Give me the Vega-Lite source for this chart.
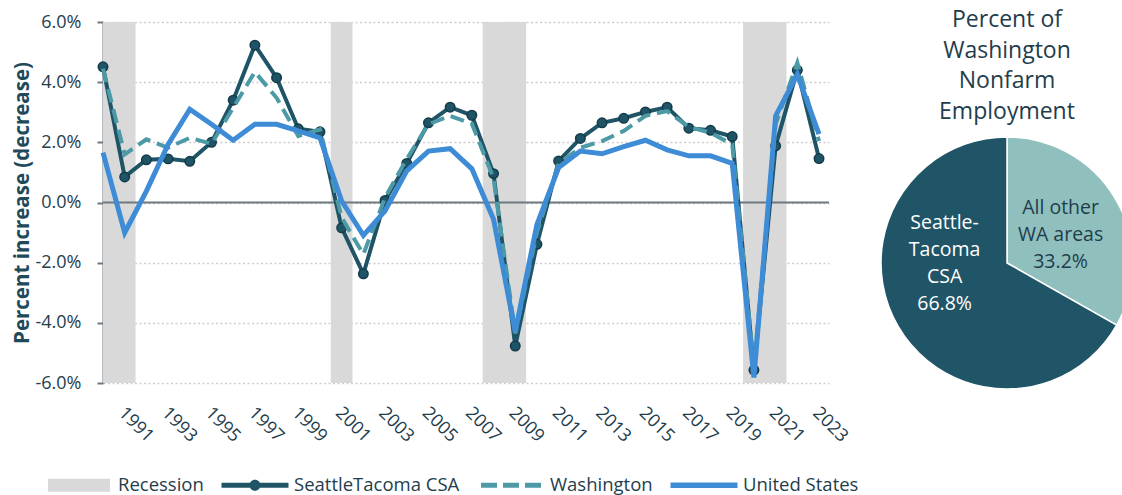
{
  "$schema": "https://vega.github.io/schema/vega-lite/v6.json",
  "background": "white",
  "padding": {"left": 12, "top": 8, "right": 0, "bottom": 0},
  "spacing": 19,
  "config": {
    "font": "Open Sans",
    "view": {"stroke": null},
    "axis": {"labelFont": "Open Sans", "titleFont": "Open Sans", "labelColor": "#1f3d4c", "titleColor": "#1f4a5a"}
  },
  "datasets": {
    "growth": [
      {"year": 1990, "series": "seattle", "value": 4.51}, {"year": 1990, "series": "washington", "value": 4.45}, {"year": 1990, "series": "us", "value": 1.66},
      {"year": 1991, "series": "seattle", "value": 0.85}, {"year": 1991, "series": "washington", "value": 1.60}, {"year": 1991, "series": "us", "value": -1.00},
      {"year": 1992, "series": "seattle", "value": 1.42}, {"year": 1992, "series": "washington", "value": 2.10}, {"year": 1992, "series": "us", "value": 0.38},
      {"year": 1993, "series": "seattle", "value": 1.45}, {"year": 1993, "series": "washington", "value": 1.82}, {"year": 1993, "series": "us", "value": 1.93},
      {"year": 1994, "series": "seattle", "value": 1.37}, {"year": 1994, "series": "washington", "value": 2.15}, {"year": 1994, "series": "us", "value": 3.10},
      {"year": 1995, "series": "seattle", "value": 2.00}, {"year": 1995, "series": "washington", "value": 1.95}, {"year": 1995, "series": "us", "value": 2.60},
      {"year": 1996, "series": "seattle", "value": 3.40}, {"year": 1996, "series": "washington", "value": 3.15}, {"year": 1996, "series": "us", "value": 2.07},
      {"year": 1997, "series": "seattle", "value": 5.23}, {"year": 1997, "series": "washington", "value": 4.34}, {"year": 1997, "series": "us", "value": 2.60},
      {"year": 1998, "series": "seattle", "value": 4.15}, {"year": 1998, "series": "washington", "value": 3.48}, {"year": 1998, "series": "us", "value": 2.60},
      {"year": 1999, "series": "seattle", "value": 2.45}, {"year": 1999, "series": "washington", "value": 2.21}, {"year": 1999, "series": "us", "value": 2.38},
      {"year": 2000, "series": "seattle", "value": 2.35}, {"year": 2000, "series": "washington", "value": 2.43}, {"year": 2000, "series": "us", "value": 2.15},
      {"year": 2001, "series": "seattle", "value": -0.84}, {"year": 2001, "series": "washington", "value": -0.50}, {"year": 2001, "series": "us", "value": 0.05},
      {"year": 2002, "series": "seattle", "value": -2.37}, {"year": 2002, "series": "washington", "value": -1.72}, {"year": 2002, "series": "us", "value": -1.09},
      {"year": 2003, "series": "seattle", "value": 0.07}, {"year": 2003, "series": "washington", "value": 0.16}, {"year": 2003, "series": "us", "value": -0.28},
      {"year": 2004, "series": "seattle", "value": 1.30}, {"year": 2004, "series": "washington", "value": 1.45}, {"year": 2004, "series": "us", "value": 1.05},
      {"year": 2005, "series": "seattle", "value": 2.65}, {"year": 2005, "series": "washington", "value": 2.60}, {"year": 2005, "series": "us", "value": 1.71},
      {"year": 2006, "series": "seattle", "value": 3.17}, {"year": 2006, "series": "washington", "value": 2.88}, {"year": 2006, "series": "us", "value": 1.79},
      {"year": 2007, "series": "seattle", "value": 2.90}, {"year": 2007, "series": "washington", "value": 2.62}, {"year": 2007, "series": "us", "value": 1.12},
      {"year": 2008, "series": "seattle", "value": 0.96}, {"year": 2008, "series": "washington", "value": 0.80}, {"year": 2008, "series": "us", "value": -0.56},
      {"year": 2009, "series": "seattle", "value": -4.77}, {"year": 2009, "series": "washington", "value": -4.35}, {"year": 2009, "series": "us", "value": -4.30},
      {"year": 2010, "series": "seattle", "value": -1.39}, {"year": 2010, "series": "washington", "value": -1.00}, {"year": 2010, "series": "us", "value": -0.73},
      {"year": 2011, "series": "seattle", "value": 1.38}, {"year": 2011, "series": "washington", "value": 1.30}, {"year": 2011, "series": "us", "value": 1.16},
      {"year": 2012, "series": "seattle", "value": 2.13}, {"year": 2012, "series": "washington", "value": 1.82}, {"year": 2012, "series": "us", "value": 1.71},
      {"year": 2013, "series": "seattle", "value": 2.65}, {"year": 2013, "series": "washington", "value": 2.04}, {"year": 2013, "series": "us", "value": 1.62},
      {"year": 2014, "series": "seattle", "value": 2.80}, {"year": 2014, "series": "washington", "value": 2.38}, {"year": 2014, "series": "us", "value": 1.86},
      {"year": 2015, "series": "seattle", "value": 3.01}, {"year": 2015, "series": "washington", "value": 2.88}, {"year": 2015, "series": "us", "value": 2.07},
      {"year": 2016, "series": "seattle", "value": 3.17}, {"year": 2016, "series": "washington", "value": 3.04}, {"year": 2016, "series": "us", "value": 1.75},
      {"year": 2017, "series": "seattle", "value": 2.47}, {"year": 2017, "series": "washington", "value": 2.51}, {"year": 2017, "series": "us", "value": 1.55},
      {"year": 2018, "series": "seattle", "value": 2.40}, {"year": 2018, "series": "washington", "value": 2.32}, {"year": 2018, "series": "us", "value": 1.55},
      {"year": 2019, "series": "seattle", "value": 2.19}, {"year": 2019, "series": "washington", "value": 1.93}, {"year": 2019, "series": "us", "value": 1.30},
      {"year": 2020, "series": "seattle", "value": -5.57}, {"year": 2020, "series": "washington", "value": -5.45}, {"year": 2020, "series": "us", "value": -5.82},
      {"year": 2021, "series": "seattle", "value": 1.88}, {"year": 2021, "series": "washington", "value": 2.60}, {"year": 2021, "series": "us", "value": 2.88},
      {"year": 2022, "series": "seattle", "value": 4.40}, {"year": 2022, "series": "washington", "value": 4.65}, {"year": 2022, "series": "us", "value": 4.26},
      {"year": 2023, "series": "seattle", "value": 1.46}, {"year": 2023, "series": "washington", "value": 2.04}, {"year": 2023, "series": "us", "value": 2.27}
    ],
    "recessions": [
      {"year": 1989.5, "year_end": 1991.5},
      {"year": 2000.5, "year_end": 2001.5},
      {"year": 2007.5, "year_end": 2009.5},
      {"year": 2019.5, "year_end": 2021.5}
    ],
    "share": [
      {"area": "All other WA areas", "share": 33.2, "label": "All other\nWA areas\n33.2%"},
      {"area": "Seattle-Tacoma CSA", "share": 66.8, "label": "Seattle-\nTacoma\nCSA\n66.8%"}
    ]
  },
  "hconcat": [
    {
      "width": 726,
      "height": 361,
      "data": {"name": "growth"},
      "layer": [
        {
          "data": {"name": "recessions"},
          "mark": {"type": "rect", "color": "#d9d9d9", "clip": true},
          "encoding": {
            "x": {
              "field": "year", "type": "quantitative",
              "scale": {"domain": [1990, 2023.46], "nice": false, "zero": false},
              "axis": {
                "title": null, "values": [1991, 1993, 1995, 1997, 1999, 2001, 2003, 2005, 2007, 2009, 2011, 2013, 2015, 2017, 2019, 2021, 2023],
                "format": "d", "labelAngle": 45, "labelAlign": "left", "labelBaseline": "middle",
                "labelPadding": 27, "labelOffset": -4, "ticks": false, "domain": false, "grid": false,
                "labelFontSize": 18, "labelFlush": false, "labelOverlap": false
              }
            },
            "x2": {"field": "year_end"}
          }
        },
        {
          "data": {"values": [{"value": 0}]},
          "mark": {"type": "rule", "color": "#6e7881", "strokeWidth": 2},
          "encoding": {
            "y": {
              "field": "value", "type": "quantitative",
              "scale": {"domain": [-6, 6], "nice": false, "zero": false},
              "axis": {
                "title": "Percent increase (decrease)", "values": [-6, -4, -2, 0, 2, 4, 6],
                "labelExpr": "(datum.value < 0 ? '-' : '') + format(abs(datum.value), '.1f') + '%'",
                "labelFontSize": 18, "labelPadding": 16,
                "titleFontSize": 20.5, "titleFontWeight": "bold", "titlePadding": 3,
                "grid": true, "gridDash": [2, 2.5], "gridColor": "#cdcdcd", "gridWidth": 1.5,
                "domainColor": "#6e7881", "domainWidth": 2,
                "tickColor": "#6e7881", "tickWidth": 2, "tickSize": 6
              }
            }
          }
        },
        {
          "transform": [{"filter": "datum.series == 'seattle'"}],
          "mark": {"type": "line", "color": "#1f5466", "strokeWidth": 4},
          "encoding": {
            "x": {"field": "year", "type": "quantitative"},
            "y": {"field": "value", "type": "quantitative"}
          }
        },
        {
          "transform": [{"filter": "datum.series == 'seattle'"}],
          "mark": {"type": "point", "filled": true, "size": 90, "color": "#1f5466", "stroke": "#143a48", "strokeWidth": 1.5, "opacity": 1},
          "encoding": {
            "x": {"field": "year", "type": "quantitative"},
            "y": {"field": "value", "type": "quantitative"}
          }
        },
        {
          "transform": [{"filter": "datum.series == 'washington'"}],
          "mark": {"type": "line", "color": "#4b9aa6", "strokeWidth": 4, "strokeDash": [14, 7]},
          "encoding": {
            "x": {"field": "year", "type": "quantitative"},
            "y": {"field": "value", "type": "quantitative"}
          }
        },
        {
          "transform": [{"filter": "datum.series == 'us'"}],
          "mark": {"type": "line", "color": "#3e8bd6", "strokeWidth": 5},
          "encoding": {
            "x": {"field": "year", "type": "quantitative"},
            "y": {"field": "value", "type": "quantitative"}
          }
        },
        {
          "data": {"values": [{"series": "Recession"}, {"series": "SeattleTacoma CSA"}, {"series": "Washington"}, {"series": "United States"}]},
          "mark": {"type": "point", "filled": true, "size": 0, "opacity": 1},
          "encoding": {
            "color": {
              "field": "series", "type": "nominal",
              "scale": {"domain": ["Recession", "SeattleTacoma CSA", "Washington", "United States"], "range": ["#d9d9d9", "#1f5466", "#4b9aa6", "#3e8bd6"]},
              "legend": {
                "orient": "none", "legendX": -59, "legendY": 428, "direction": "horizontal", "title": null,
                "symbolSize": 4900, "symbolStrokeWidth": 0, "symbolOpacity": 1,
                "labelFontSize": 18.5, "labelColor": "#1f3d4c", "labelFont": "Open Sans",
                "labelOffset": 4, "columnPadding": 16, "labelLimit": 300
              }
            },
            "shape": {
              "field": "series", "type": "nominal",
              "scale": {
                "domain": ["Recession", "SeattleTacoma CSA", "Washington", "United States"],
                "range": [
                  "M-0.886,-0.186H0.886V0.186H-0.886Z",
                  "M-0.957,-0.07H0.957V0.07H-0.957Z M0.157,0A0.157,0.157 0 1,1 -0.157,0A0.157,0.157 0 1,1 0.157,0Z",
                  "M-0.857,-0.07H-0.4V0.07H-0.857Z M-0.229,-0.07H0.229V0.07H-0.229Z M0.4,-0.07H0.857V0.07H0.4Z",
                  "M-0.957,-0.08H0.957V0.08H-0.957Z"
                ]
              }
            }
          }
        }
      ]
    },
    {
      "width": 252,
      "height": 482,
      "title": {
        "text": ["Percent of", "Washington", "Nonfarm", "Employment"],
        "fontSize": 23, "font": "Open Sans", "fontWeight": "normal", "color": "#1f3d4c",
        "lineHeight": 30.7, "anchor": "middle", "offset": -102
      },
      "data": {"name": "share"},
      "layer": [
        {
          "mark": {"type": "arc", "outerRadius": 126, "stroke": "white", "strokeWidth": 1.5},
          "encoding": {
            "theta": {"field": "share", "type": "quantitative", "stack": true},
            "color": {
              "field": "area", "type": "nominal",
              "scale": {"domain": ["All other WA areas", "Seattle-Tacoma CSA"], "range": ["#8fc0bd", "#205567"]},
              "legend": null
            },
            "order": {"field": "share", "sort": "ascending"}
          }
        },
        {
          "mark": {"type": "text", "radius": 62, "dy": -24, "lineBreak": "\n", "fontSize": 19.5, "lineHeight": 27, "color": "#1f3d4c", "align": "center", "baseline": "middle", "font": "Open Sans"},
          "encoding": {
            "theta": {"field": "share", "type": "quantitative", "stack": true},
            "order": {"field": "share", "sort": "ascending"},
            "text": {"condition": {"test": "datum.area == 'All other WA areas'", "field": "label"}, "value": ""}
          }
        },
        {
          "mark": {"type": "text", "radius": 63, "dx": -8, "dy": -72, "lineBreak": "\n", "fontSize": 19.5, "lineHeight": 27, "color": "white", "align": "center", "baseline": "middle", "font": "Open Sans"},
          "encoding": {
            "theta": {"field": "share", "type": "quantitative", "stack": true},
            "order": {"field": "share", "sort": "ascending"},
            "text": {"condition": {"test": "datum.area == 'Seattle-Tacoma CSA'", "field": "label"}, "value": ""}
          }
        }
      ]
    }
  ],
  "resolve": {"scale": {"color": "independent", "shape": "independent"}}
}
